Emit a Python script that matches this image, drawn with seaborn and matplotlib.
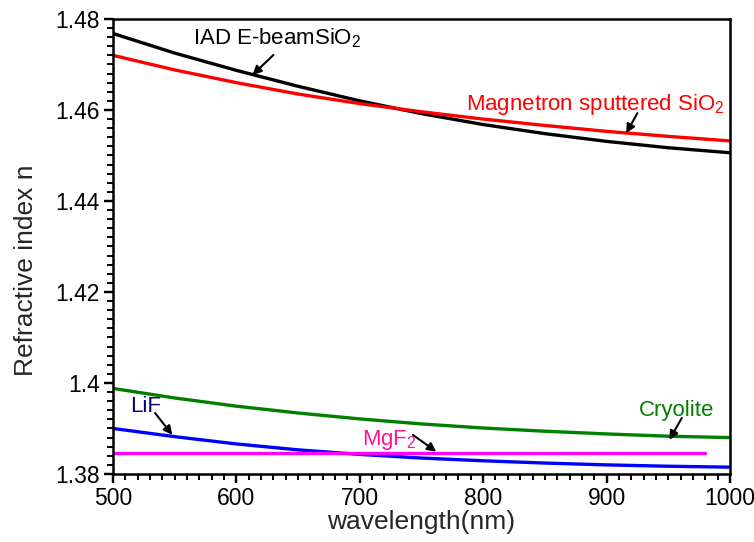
import numpy as np
import pandas as pd
import seaborn as sns
import matplotlib.pyplot as plt
from matplotlib.ticker import MultipleLocator

# wavelength grid (nm) and refractive index
wl = [500, 550, 600, 650, 700, 750, 800, 850, 900, 950, 1000]
n_iad = [1.4768, 1.4725, 1.4687, 1.4652, 1.4620, 1.4592, 1.4568, 1.4548, 1.4531, 1.4517, 1.4506]
n_mag = [1.4720, 1.4688, 1.4660, 1.4635, 1.4614, 1.4596, 1.4580, 1.4566, 1.4553, 1.4542, 1.4532]
n_cryo = [1.3988, 1.3967, 1.3949, 1.3934, 1.3921, 1.3910, 1.3901, 1.3894, 1.3888, 1.3883, 1.3880]
n_lif = [1.3900, 1.3882, 1.3866, 1.3853, 1.3843, 1.3835, 1.3829, 1.3824, 1.3820, 1.3817, 1.3815]
wl_mgf2 = [500, 980]
n_mgf2 = [1.3846, 1.3846]

names = ["IAD", "Magnetron", "Cryolite", "LiF", "MgF2"]
colors = ["black", "#ff0000", "#008000", "#0000ff", "#ff00ff"]

rows = []
for name, vals in zip(names[:4], [n_iad, n_mag, n_cryo, n_lif]):
    for w, v in zip(wl, vals):
        rows.append([name, w, v])
for w, v in zip(wl_mgf2, n_mgf2):
    rows.append(["MgF2", w, v])
df = pd.DataFrame(rows, columns=["film", "wavelength", "n"])

sns.set_style("ticks")
plt.rcParams.update({
    'font.family': ['Liberation Sans', 'DejaVu Sans'],
    'mathtext.fontset': 'custom',
    'mathtext.rm': 'Liberation Sans',
    'xtick.color': 'black', 'ytick.color': 'black',
    'xtick.direction': 'out', 'ytick.direction': 'out',
    'xtick.major.size': 6.5, 'ytick.major.size': 6.5,
    'xtick.minor.size': 4, 'ytick.minor.size': 4,
    'xtick.major.width': 1.6, 'ytick.major.width': 1.6,
    'xtick.minor.width': 1.4, 'ytick.minor.width': 1.4,
})

fig = plt.figure(figsize=(7.54, 5.42), dpi=100)
ax = fig.add_axes([0.150, 0.1255, 0.818, 0.8395])
sns.lineplot(data=df, x="wavelength", y="n", hue="film", hue_order=names,
             palette=colors, linewidth=2.4, legend=False, ax=ax)

ax.set_xlim(500, 1000)
ax.set_ylim(1.38, 1.48)
ax.set_yticks([1.38, 1.40, 1.42, 1.44, 1.46, 1.48])
ax.set_yticklabels(["1.38", "1.4", "1.42", "1.44", "1.46", "1.48"])
ax.xaxis.set_major_locator(MultipleLocator(100))
ax.xaxis.set_minor_locator(MultipleLocator(10))
ax.yaxis.set_minor_locator(MultipleLocator(0.002))
ax.tick_params(which='major', labelsize=16.5, pad=3)
for s in ax.spines.values():
    s.set_linewidth(1.8)
    s.set_color('black')

# tick marks as plain line segments too (so they show up in any renderer)
xmaj = np.arange(500, 1001, 100)
xmin = [v for v in np.arange(500, 1001, 10) if v % 100 != 0]
ymaj = np.round(np.arange(1.38, 1.4801, 0.02), 3)
ymin = [v for v in np.round(np.arange(1.38, 1.4801, 0.002), 3) if v not in ymaj]
xt = ax.get_xaxis_transform()
yt = ax.get_yaxis_transform()
ax.vlines(xmaj, -0.0198, 0, transform=xt, clip_on=False, colors='black', lw=1.6)
ax.vlines(xmin, -0.0122, 0, transform=xt, clip_on=False, colors='black', lw=1.4)
ax.hlines(ymaj, -0.0146, 0, transform=yt, clip_on=False, colors='black', lw=1.6)
ax.hlines(ymin, -0.009, 0, transform=yt, clip_on=False, colors='black', lw=1.4)
ax.set_xlim(500, 1000)
ax.set_ylim(1.38, 1.48)

ax.set_xlabel("wavelength(nm)", fontsize=19, labelpad=0)
ax.set_ylabel("Refractive index n", fontsize=19)
ax.yaxis.set_label_coords(-0.122, 0.448)

# labels
ax.text(565, 1.4758, "IAD E-beamSiO$\\mathregular{_2}$", fontsize=16, va='center', color="black")
ax.text(786, 1.4612, "Magnetron sputtered SiO$\\mathregular{_2}$", fontsize=16, va='center', color="#ff0000")
ax.text(926, 1.3940, "Cryolite", fontsize=16, va='center', color="#008000")
ax.text(514, 1.3948, "LiF", fontsize=16, va='center', color="#000080")
ax.text(702, 1.3874, "MgF$\\mathregular{_2}$", fontsize=16, va='center', color="#ff1493")

# arrows (tail -> head)
arr = dict(arrowstyle="-|>", color="black", lw=1.5, mutation_scale=13, shrinkA=0, shrinkB=0)
ax.annotate("", xy=(613, 1.4677), xytext=(630, 1.4721), arrowprops=arr)
ax.annotate("", xy=(916, 1.4549), xytext=(925, 1.4593), arrowprops=arr)
ax.annotate("", xy=(951, 1.3875), xytext=(961, 1.3923), arrowprops=arr)
ax.annotate("", xy=(548, 1.3886), xytext=(534, 1.3934), arrowprops=arr)
ax.annotate("", xy=(762, 1.3849), xytext=(743, 1.3886), arrowprops=arr)

fig.savefig("out.png", dpi=100)
